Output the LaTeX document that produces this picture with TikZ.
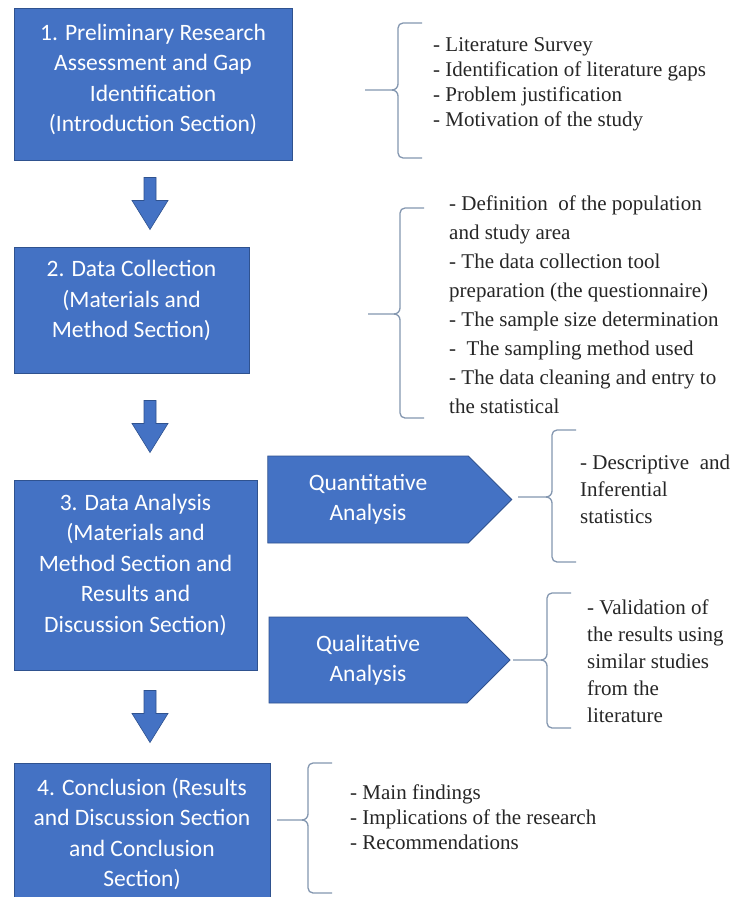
\documentclass[tikz,border=0pt]{standalone}
\usepackage{fontspec}
\setmainfont{Liberation Serif}
\newfontfamily\boxfont{Carlito}
\usepackage{tikz}
\usetikzlibrary{calc, shapes.symbols}

\definecolor{boxblue}{HTML}{4472C4}
\definecolor{boxedge}{HTML}{2F528F}
\definecolor{bracegray}{HTML}{8497B0}

% spine x, top y, middle y, bottom y, start of the stub
\newcommand{\bracket}[5]{%
  \draw[bracketline] ({#1+24},#2) -- ({#1+5},#2) to[out=180,in=90] (#1,{#2+5})
        -- (#1,{#3-6}) to[out=-90,in=0] ({#1-6},#3) -- (#5,#3);
  \draw[bracketline] ({#1-6},#3) to[out=0,in=90] (#1,{#3+6})
        -- (#1,{#4-5}) to[out=-90,in=180] ({#1+5},#4) -- ({#1+24},#4);
}

\begin{document}
\begin{tikzpicture}[x=1pt, y=-1pt]
            % Define styles
            \tikzstyle{stage} = [rectangle, fill=boxblue, draw=boxedge, line width=0.8pt, text=white, align=center, inner sep=0pt, font=\boxfont\fontsize{23.5}{30.5}\selectfont]
            \tikzstyle{branch} = [signal, signal to=east, signal pointer angle=90, fill=boxblue, draw=boxedge, line width=0.8pt, text=white, align=center, inner sep=0pt, font=\boxfont\fontsize{23.5}{30}\selectfont]
            \tikzstyle{notes} = [anchor=west, align=left, inner sep=0pt, text=black!85, font=\fontsize{21}{25}\selectfont]
            \tikzstyle{arrowfill} = [fill=boxblue, draw=boxedge, line width=0.6pt]
            \tikzstyle{bracketline} = [draw=bracegray, line width=1.3pt]

            \fill[white] (0,0) rectangle (742,897);
            \useasboundingbox (0,0) rectangle (742,897);

            % Main stages
            \node[stage, minimum width=278, minimum height=152, text depth=12pt] (b1) at (153,84) {1. Preliminary Research\\Assessment and Gap\\Identification\\(Introduction Section)};
            \node[stage, minimum width=235, minimum height=126, text depth=22pt] (b2) at (131.5,310) {2. Data Collection\\(Materials and\\Method Section)};
            \node[stage, minimum width=243, minimum height=190, text depth=24pt] (b3) at (135.5,575) {3. Data Analysis\\(Materials and\\Method Section and\\Results and\\Discussion Section)};
            \node[stage, minimum width=256, minimum height=142] (b4) at (142,834) {4. Conclusion (Results\\and Discussion Section\\and Conclusion\\Section)};

            % Two kinds of analysis
            \node[branch, minimum width=244, minimum height=87] (quan) at (368,499.5) {Quantitative\\Analysis};
            \node[branch, minimum width=241, minimum height=86] (qual) at (368,660) {Qualitative\\Analysis};

            % Block arrows between stages
            \coordinate (ax) at (150,0);
            \foreach \a/\b in {b1/b2, b2/b3, b3/b4} {
                \coordinate (mid) at ($(\a.south)!0.5!(\b.north)$);
                \fill[arrowfill] (ax |- mid) ++(-6,-26) -- ++(12,0) -- ++(0,23) -- ++(12,0)
                      -- ++(-18,29) -- ++(-18,-29) -- ++(12,0) -- cycle;
            }

            % Notes
            \node[notes] (n1) at (433,84.5) {- Literature Survey\\- Identification of literature gaps\\- Problem justification\\- Motivation of the study};
            \node[notes, font=\fontsize{21}{29}\selectfont] (n2) at (449,305) {- Definition\ \ of the population\\and study area\\- The data collection tool\\preparation (the questionnaire)\\- The sample size determination\\-\ \ The sampling method used\\- The data cleaning and entry to\\the statistical};
            \node[notes, font=\fontsize{21}{27}\selectfont] (n3) at (580,489) {- Descriptive\ \ and\\Inferential\\statistics};
            \node[notes, font=\fontsize{21}{27}\selectfont] (n4) at (587,661) {- Validation of\\the results using\\similar studies\\from the\\literature};
            \node[notes] (n5) at (350,817) {- Main findings\\- Implications of the research\\- Recommendations};

            % Brackets
            \bracket{398}{23}{90}{158}{365}
            \bracket{400}{208}{314}{418}{368}
            \bracket{552}{430}{497}{562}{518}
            \bracket{547}{593}{660}{728}{513}
            \bracket{308}{763}{820}{893}{277}
\end{tikzpicture}
\end{document}
